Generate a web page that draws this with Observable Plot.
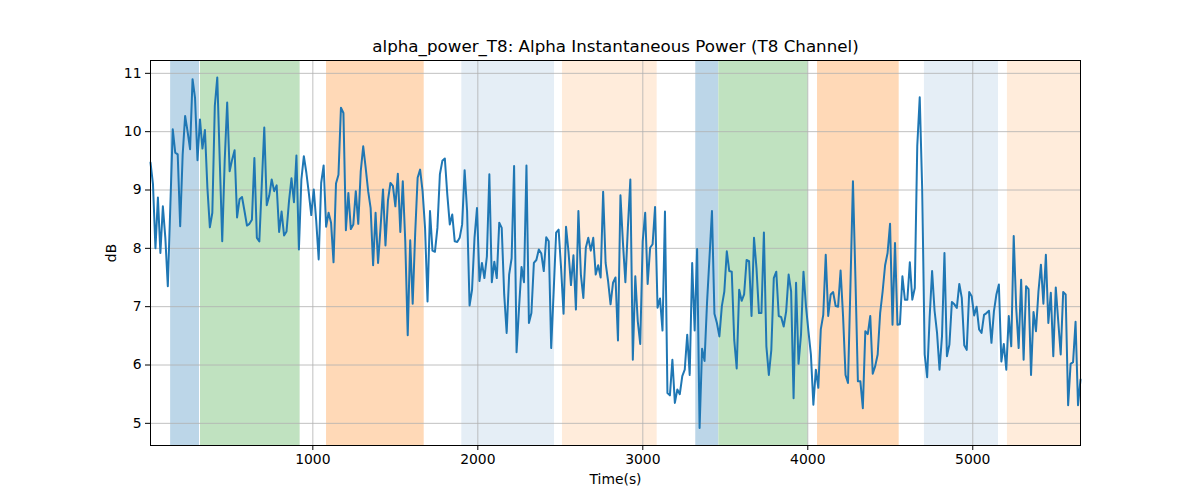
<!DOCTYPE html>
<html>
<head>
<meta charset="utf-8">
<script src="https://cdn.jsdelivr.net/npm/d3@7"></script>
<script src="https://cdn.jsdelivr.net/npm/@observablehq/plot@0.6"></script>
<style>
  body { margin: 0; background: #fff; }
  #chart svg { display: block; }
</style>
</head>
<body>
<div id="chart"></div>
<script>
const chartTitle = "alpha_power_T8: Alpha Instantaneous Power (T8 Channel)";
const xLabel = "Time(s)";
const yLabel = "dB";

// time extent of the recording (s)
const tStart = 16;
const tEnd = 5653;

// alpha power (dB), sampled at regular intervals
const power = [
  9.47,9.1,8.0,8.87,7.92,8.72,8.18,7.35,8.7,10.04,9.64,9.61,8.38,9.6,10.27,10.0,9.7,10.9,10.58,9.51,10.21,9.71,10.03,9.04,8.36,8.61,10.44,10.93,9.5,8.12,9.5,10.5,9.32,9.52,9.68,8.53,8.84,8.88,8.64,8.39,8.42,8.49,9.55,8.18,8.12,9.1,10.07,8.74,8.9,
  9.18,8.98,9.08,8.28,8.63,8.22,8.29,8.81,9.2,8.79,9.59,7.98,9.18,9.58,9.3,8.95,8.57,9.01,8.47,7.81,9.12,9.42,8.37,8.61,8.44,7.76,9.11,9.26,10.41,10.32,8.31,8.95,8.33,8.41,8.98,8.42,9.32,9.75,9.38,8.98,8.69,7.71,8.61,7.75,8.35,9.01,8.05,8.82,9.12,
  9.07,8.72,9.28,8.28,9.15,8.12,6.51,8.14,7.05,8.24,9.21,9.35,8.98,8.35,7.09,8.64,7.96,7.94,8.35,9.27,9.5,9.54,8.92,8.41,8.58,8.12,8.11,8.18,8.41,9.34,8.64,7.02,7.29,8.18,8.69,7.44,7.75,7.49,7.86,9.27,7.42,7.77,7.49,8.44,8.35,7.21,6.55,7.55,
  7.83,9.41,6.22,6.98,7.68,7.42,9.42,6.72,6.89,7.75,7.8,7.98,7.91,7.61,8.19,8.12,6.29,7.26,8.27,8.32,7.66,6.88,8.37,7.94,7.37,7.88,6.95,8.64,7.55,7.15,8.01,8.18,7.96,8.18,7.55,7.71,7.5,8.97,7.75,7.44,7.04,7.41,7.5,6.42,8.91,8.1,7.42,8.35,9.18,
  6.09,7.52,6.75,6.36,8.12,8.61,7.39,8.01,8.07,8.71,6.98,7.14,6.59,8.63,5.52,5.48,6.09,5.35,5.58,5.5,5.81,5.92,6.52,5.83,7.75,6.59,7.99,4.92,6.28,6.07,7.06,7.84,8.64,6.88,6.72,6.49,7.01,7.26,7.95,7.61,7.6,6.43,5.94,7.29,7.1,7.21,7.8,7.78,
  6.84,8.18,7.66,6.89,6.89,8.27,6.32,5.83,6.26,7.49,7.6,6.84,6.82,6.66,6.92,7.55,7.26,5.43,7.41,6.02,6.52,7.6,7.01,6.58,6.18,5.32,5.92,5.61,6.61,6.86,7.89,6.84,7.21,7.25,7.01,7.0,7.62,6.84,5.83,5.69,7.39,9.15,7.49,5.72,5.72,5.26,6.58,6.53,6.84,
  5.85,5.98,6.18,6.89,7.26,7.71,7.92,8.42,6.69,8.09,6.69,6.7,7.52,7.12,7.12,7.76,7.12,7.32,9.75,10.59,9.01,6.18,5.79,6.81,7.61,6.93,6.55,5.92,6.49,7.92,6.15,6.35,7.08,7.04,6.98,7.39,7.15,6.34,6.26,7.25,7.18,6.85,7.0,6.61,6.55,6.86,6.89,6.93,
  6.38,6.92,7.21,7.38,6.06,6.36,5.92,6.84,6.32,8.21,6.98,6.29,7.46,6.09,7.35,7.3,5.83,6.91,6.58,7.26,7.72,7.05,7.89,6.72,7.24,6.15,7.33,6.75,6.18,7.25,7.21,5.31,6.02,6.05,6.74,5.31,5.75
];

// shaded epochs
const bandStart = [138, 319, 1083, 1903, 2513, 3321, 3461, 4059, 4707, 5210];
const bandEnd   = [313, 923, 1675, 2465, 3087, 3461, 4002, 4554, 5156, 5653];
const bandColor = ["#bcd6e8", "#c0e2c0", "#ffd9b7", "#e5eef6", "#ffecdb",
                   "#bcd6e8", "#c0e2c0", "#ffd9b7", "#e5eef6", "#ffecdb"];

const xTicks = [1000, 2000, 3000, 4000, 5000];
const yTicks = [5, 6, 7, 8, 9, 10, 11];
const yDomain = [4.62, 11.22];

const step = (tEnd - tStart) / (power.length - 1);
const series = power.map((v, i) => ({t: tStart + i * step, v}));
const bands = bandStart.map((s, i) => ({x1: s, x2: bandEnd[i], fill: bandColor[i]}));

const gridStyle = {stroke: "#b0b0b0", strokeOpacity: 1, strokeWidth: 0.8};
const plain = d => String(d);

const chart = Plot.plot({
  width: 1200,
  height: 500,
  marginLeft: 150,
  marginRight: 120,
  marginTop: 60,
  marginBottom: 55,
  style: {fontFamily: "DejaVu Sans", fontSize: "13.9px", background: "#fff", color: "#000"},
  x: {domain: [tStart, tEnd]},
  y: {domain: yDomain},
  color: {type: "identity"},
  marks: [
    Plot.rect(bands, {x1: "x1", x2: "x2", fill: "fill"}),
    Plot.gridX(xTicks, gridStyle),
    Plot.gridY(yTicks, gridStyle),
    Plot.line(series, {x: "t", y: "v", stroke: "#1f77b4", strokeWidth: 2}),
    Plot.frame({stroke: "#000", strokeWidth: 1}),
    Plot.axisX(xTicks, {tickSize: 5, tickPadding: 4, tickFormat: plain, label: xLabel, labelAnchor: "center", labelArrow: "none", labelOffset: 38, fontSize: 13.9}),
    Plot.axisY(yTicks, {tickSize: 5, tickPadding: 4, tickFormat: plain, label: yLabel, labelAnchor: "center", labelArrow: "none", labelOffset: 44, fontSize: 13.9}),
    Plot.text([chartTitle], {frameAnchor: "top", dy: -14, lineAnchor: "middle", fontSize: 16.7, fill: "#000"})
  ]
});
document.getElementById("chart").appendChild(chart);
</script>
</body>
</html>
